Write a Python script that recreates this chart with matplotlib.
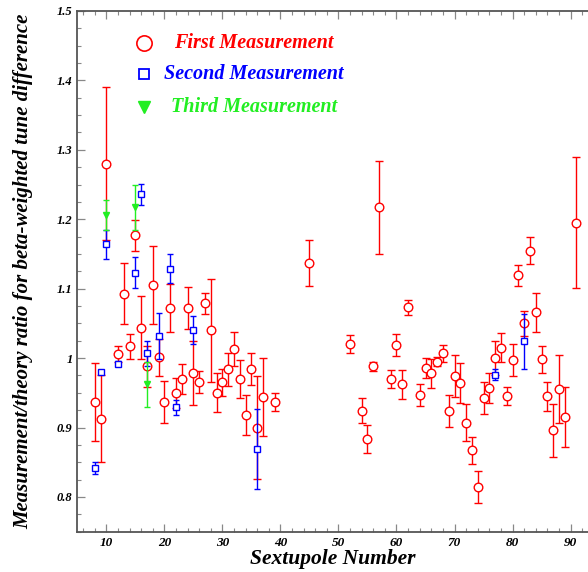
import matplotlib
matplotlib.use("Agg")
import matplotlib.pyplot as plt
from matplotlib.ticker import MultipleLocator, FuncFormatter

# ---- data ----
first_x = [8, 9, 10, 12, 13, 14, 15, 16, 17, 18, 19, 20, 21, 22, 23, 24, 25, 26, 27, 28,
           29, 30, 31, 32, 33, 34, 35, 36, 37, 39, 45, 52, 54, 55, 56, 57, 59, 60, 61, 62,
           64, 65, 66, 67, 68, 69, 70, 71, 72, 73, 74, 75, 76, 77, 78, 79, 80, 81, 82, 83,
           84, 85, 86, 87, 88, 89, 91]
first_y = [0.937, 0.913, 1.280, 1.006, 1.093, 1.017, 1.177, 1.044, 0.988, 1.105,
           1.001, 0.937, 1.072, 0.950, 0.970, 1.072, 0.979, 0.966, 1.079, 1.040,
           0.950, 0.965, 0.984, 1.013, 0.970, 0.918, 0.984, 0.900, 0.944, 0.937,
           1.137, 1.021, 0.924, 0.884, 0.988, 1.217, 0.970, 1.019, 0.962, 1.073,
           0.947, 0.986, 0.978, 0.995, 1.007, 0.924, 0.974, 0.964, 0.907, 0.867,
           0.815, 0.943, 0.957, 1.000, 1.015, 0.945, 0.997, 1.119, 1.050, 1.155,
           1.066, 0.998, 0.945, 0.896, 0.955, 0.915, 1.195]
first_err = [0.056, 0.062, 0.11, 0.012, 0.044, 0.018, 0.022, 0.045, 0.03, 0.056,
             0.027, 0.03, 0.035, 0.022, 0.022, 0.03, 0.046, 0.016, 0.015, 0.074,
             0.028, 0.02, 0.024, 0.024, 0.027, 0.029, 0.023, 0.074, 0.056, 0.013,
             0.033, 0.013, 0.018, 0.02, 0.007, 0.067, 0.013, 0.016, 0.021, 0.011,
             0.016, 0.014, 0.021, 0.007, 0.012, 0.023, 0.03, 0.029, 0.027, 0.019,
             0.023, 0.023, 0.022, 0.024, 0.021, 0.013, 0.023, 0.015, 0.018, 0.019,
             0.028, 0.019, 0.021, 0.038, 0.049, 0.043, 0.094]

second_x = [8, 9, 10, 12, 15, 16, 17, 19, 21, 22, 25, 36, 77, 82]
second_y = [0.842, 0.980, 1.164, 0.992, 1.123, 1.236, 1.007, 1.032, 1.129, 0.929,
            1.040, 0.869, 0.976, 1.024]
second_err = [0.009, 0.003, 0.021, 0.004, 0.022, 0.015, 0.018, 0.033, 0.021, 0.011,
              0.02, 0.057, 0.008, 0.04]

third_x = [10, 15, 17]
third_y = [1.206, 1.217, 0.962]
third_err = [0.022, 0.032, 0.033]

labels = ["First Measurement", "Second Measurement", "Third Measurement"]
RED, BLUE, GREEN = "#ff0000", "#0000ff", "#22ee22"

SERIF = ["Liberation Serif", "DejaVu Serif"]
font_bi = dict(family=SERIF, weight="bold", style="italic")

fig = plt.figure(figsize=(5.88, 5.72), dpi=100)
ax = fig.add_axes([0.1315, 0.0705, 0.8685, 0.9103])

ax.errorbar(first_x, first_y, yerr=first_err, fmt="o", color=RED, ms=6.2,
            mfc="white", mec=RED, mew=1.0, elinewidth=1.0, capsize=2.6, capthick=1.0, zorder=3)
ax.errorbar(second_x, second_y, yerr=second_err, fmt="s", color=BLUE, ms=4.2,
            mfc="white", mec=BLUE, mew=1.0, elinewidth=1.0, capsize=2.2, capthick=1.0, zorder=4)
ax.errorbar(third_x, third_y, yerr=third_err, fmt="v", color=GREEN, ms=4.5,
            mfc=GREEN, mec=GREEN, elinewidth=1.0, capsize=2.2, capthick=1.0, zorder=5)

ax.set_xlim(5, 93)
ax.set_ylim(0.75, 1.5)

ax.xaxis.set_major_locator(MultipleLocator(10))
ax.xaxis.set_minor_locator(MultipleLocator(2))
ax.yaxis.set_major_locator(MultipleLocator(0.1))
ax.yaxis.set_minor_locator(MultipleLocator(0.025))
ax.yaxis.set_major_formatter(FuncFormatter(lambda v, p: "%g" % round(v, 3)))

for s in ["left", "bottom", "top"]:
    ax.spines[s].set_color("#555555")
    ax.spines[s].set_linewidth(1.3)
ax.spines["right"].set_visible(False)

ax.tick_params(which="both", direction="in", color="#888888", top=True, right=False)
ax.tick_params(which="major", length=6, width=0.9)
ax.tick_params(which="minor", length=3.2, width=0.8)
for lab in ax.get_xticklabels():
    lab.set(**font_bi, fontsize=9.5)
for lab in ax.get_yticklabels():
    lab.set(**font_bi, fontsize=9)

ax.set_xlabel("Sextupole Number", fontsize=15.5, labelpad=0, **font_bi)
ax.set_ylabel("Measurement/theory ratio for beta-weighted tune difference",
              fontsize=15, labelpad=17, **font_bi)

# legend (drawn manually)
leg_y = [0.9385, 0.879, 0.8156]
markers = [dict(marker="o", ms=11, mfc="white", mec=RED, mew=1.2),
           dict(marker="s", ms=7.5, mfc="white", mec=BLUE, mew=1.3),
           dict(marker="v", ms=8, mfc=GREEN, mec=GREEN)]
colors = [RED, BLUE, GREEN]
for yy, mk, c, lab in zip(leg_y, markers, colors, labels):
    ax.plot([0.1306], [yy], transform=ax.transAxes, linestyle="none", **mk)
    ax.text(0.346, yy, lab, transform=ax.transAxes, color=c, fontsize=14.5,
            ha="center", va="center", **font_bi)

fig.savefig("out.png", dpi=100)
